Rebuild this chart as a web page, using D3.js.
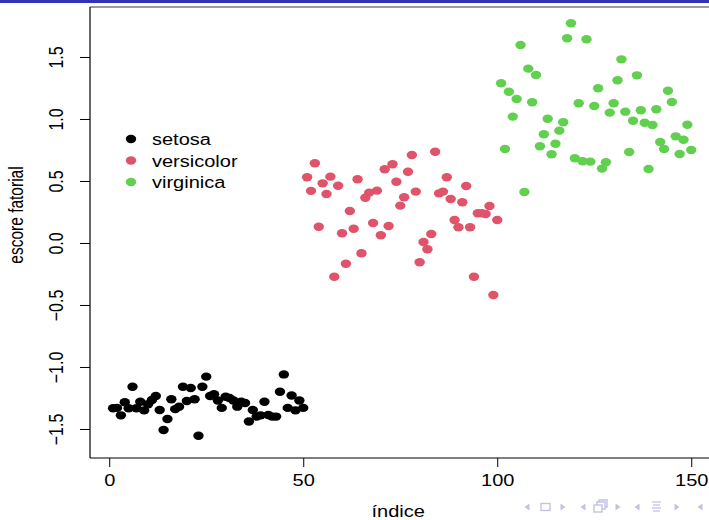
<!DOCTYPE html>
<html>
<head>
<meta charset="utf-8">
<script src="https://cdn.jsdelivr.net/npm/d3@7"></script>
<style>
  body { margin: 0; background: #fff; }
  svg { display: block; }
  text { font-family: "Liberation Sans", Arial, Helvetica, sans-serif; fill: #000; }
</style>
</head>
<body>
<svg id="chart" width="709" height="520"></svg>
<script>
// Factor scores of the iris observations, in row order, grouped by species
const species = ["setosa", "versicolor", "virginica"];
const speciesColors = ["#000000", "#DF536B", "#61D04F"];

const setosaScores = [
  -1.333, -1.33, -1.39, -1.285, -1.333, -1.16, -1.333, -1.28, -1.35, -1.30,
  -1.266, -1.234, -1.347, -1.508, -1.42, -1.26, -1.34, -1.32, -1.16, -1.274,
  -1.17, -1.26, -1.554, -1.16, -1.078, -1.234, -1.22, -1.27, -1.33, -1.24,
  -1.25, -1.27, -1.32, -1.28, -1.29, -1.44, -1.347, -1.40, -1.39, -1.28,
  -1.387, -1.40, -1.40, -1.20, -1.06, -1.33, -1.23, -1.35, -1.27, -1.33
];
const versicolorScores = [
  0.53, 0.42, 0.643, 0.131, 0.481, 0.395, 0.535, -0.272, 0.462, 0.078,
  -0.167, 0.258, 0.115, 0.514, -0.083, 0.365, 0.406, 0.161, 0.422, 0.062,
  0.594, 0.137, 0.635, 0.494, 0.301, 0.369, 0.575, 0.71, 0.414, -0.156,
  0.008, -0.051, 0.073, 0.736, 0.40, 0.414, 0.53, 0.355, 0.185, 0.127,
  0.328, 0.46, 0.127, -0.272, 0.24, 0.24, 0.234, 0.298, -0.42, 0.185
];
const virginicaScores = [
  1.288, 0.758, 1.22, 1.019, 1.161, 1.597, 0.411, 1.406, 1.135, 1.355,
  0.78, 0.877, 1.002, 0.715, 0.80, 0.906, 0.973, 1.651, 1.772, 0.683,
  1.127, 0.659, 1.643, 0.656, 1.105, 1.248, 0.60, 0.651, 1.051, 1.127,
  1.312, 1.481, 1.059, 0.734, 0.986, 1.352, 1.07, 0.97, 0.597, 0.952,
  1.078, 0.815, 0.758, 1.228, 1.137, 0.86, 0.718, 0.833, 0.954, 0.75
];

const xTicks = [0, 50, 100, 150];
const yTicks = [-1.5, -1.0, -0.5, 0.0, 0.5, 1.0, 1.5];
const xLabel = "índice";
const yLabel = "escore fatorial";

// Points: index along x, score along y, coloured by species
const scoreGroups = [setosaScores, versicolorScores, virginicaScores];
const points = [];
scoreGroups.forEach((scores, g) => {
  scores.forEach(v => points.push({ idx: points.length + 1, score: v, group: g }));
});

const svg = d3.select("#chart");
const SX = 1.25;           // horizontal stretch of the page rendering
const fontSize = 16;

// Slide decoration: title bar strip
svg.append("rect").attr("x", 0).attr("y", 0).attr("width", 709).attr("height", 3)
  .attr("fill", "#3333B3");

// Plot region
const box = { left: 90, top: 7, bottom: 458 };
const xDomain = [1 - 0.04 * 149, 150 + 0.04 * 149];
const pxPerUnit = 3.88;
box.right = box.left + (xDomain[1] - xDomain[0]) * pxPerUnit;

const x = d3.scaleLinear().domain(xDomain).range([box.left, box.right]);
const y = d3.scaleLinear().domain([-1.734, 1.903]).range([box.bottom, box.top]);

const fmt = d3.format(".1f");

// Y axis with rotated labels
const yAxis = svg.append("g")
  .attr("transform", `translate(${box.left},0)`)
  .call(d3.axisLeft(y).tickValues(yTicks).tickSize(10).tickFormat(fmt));
yAxis.select(".domain").remove();
yAxis.selectAll(".tick line").attr("stroke", "#000");
yAxis.selectAll(".tick text").remove();
yAxis.selectAll(".tick").append("text")
  .attr("transform", `translate(${63 - box.left},0) scale(${SX},1) rotate(-90)`)
  .attr("text-anchor", "middle")
  .attr("font-size", fontSize)
  .text(d => fmt(d));

// X axis
const xAxis = svg.append("g")
  .attr("transform", `translate(0,${box.bottom})`)
  .call(d3.axisBottom(x).tickValues(xTicks).tickSize(9).tickFormat(d3.format("d")));
xAxis.select(".domain").remove();
xAxis.selectAll(".tick line").attr("stroke", "#000");
xAxis.selectAll(".tick text").remove();
xAxis.selectAll(".tick").append("text")
  .attr("transform", `translate(0,28) scale(${SX},1)`)
  .attr("text-anchor", "middle")
  .attr("font-size", fontSize)
  .text(d => d);

// Box around the plot region
svg.append("line").attr("x1", box.left).attr("x2", 709).attr("y1", box.top).attr("y2", box.top)
  .attr("stroke", "#7a7a7a").attr("stroke-width", 1.5);
svg.append("line").attr("x1", box.left).attr("x2", box.left).attr("y1", box.top).attr("y2", box.bottom)
  .attr("stroke", "#000").attr("stroke-width", 1.2);
svg.append("line").attr("x1", box.left).attr("x2", 709).attr("y1", box.bottom).attr("y2", box.bottom)
  .attr("stroke", "#000").attr("stroke-width", 1.2);

// Axis titles
svg.append("text")
  .attr("transform", `translate(${(box.left + box.right) / 2 - 4},517) scale(${SX},1)`)
  .attr("text-anchor", "middle").attr("font-size", fontSize).text(xLabel);
svg.append("text")
  .attr("transform", `translate(23,215) scale(${SX},1) rotate(-90)`)
  .attr("text-anchor", "middle").attr("font-size", fontSize - 0.5).text(yLabel);

// Scatter points
svg.append("g").selectAll("ellipse").data(points).join("ellipse")
  .attr("cx", d => x(d.idx))
  .attr("cy", d => y(d.score))
  .attr("rx", 5.2).attr("ry", 4.2)
  .attr("fill", d => speciesColors[d.group]);

// Legend
const legend = svg.append("g");
species.forEach((name, i) => {
  const ly = 139 + i * 21.5;
  legend.append("ellipse").attr("cx", 131).attr("cy", ly).attr("rx", 5.2).attr("ry", 4.2)
    .attr("fill", speciesColors[i]);
  legend.append("text")
    .attr("transform", `translate(152,${ly + 6}) scale(${SX},1)`)
    .attr("font-size", fontSize).text(name);
});

// Slide navigation symbols
const nav = svg.append("g").attr("fill", "#C2C2E6").attr("stroke", "#C2C2E6");
const navY = 507;
const triLeft = cx => `M${cx + 2.5},${navY - 3.5} L${cx - 2.5},${navY} L${cx + 2.5},${navY + 3.5} Z`;
const triRight = cx => `M${cx - 2.5},${navY - 3.5} L${cx + 2.5},${navY} L${cx - 2.5},${navY + 3.5} Z`;
[527, 583, 637, 700].forEach(cx => nav.append("path").attr("d", triLeft(cx)).attr("stroke", "none"));
[563, 618, 677].forEach(cx => nav.append("path").attr("d", triRight(cx)).attr("stroke", "none"));
nav.append("rect").attr("x", 541).attr("y", navY - 3.5).attr("width", 9).attr("height", 7)
  .attr("fill", "none").attr("stroke-width", 1.4);
nav.append("rect").attr("x", 594).attr("y", navY - 2).attr("width", 8).attr("height", 7)
  .attr("fill", "#fff").attr("stroke-width", 1.4);
nav.append("path").attr("d", `M597,${navY - 2} V${navY - 5} H605 V${navY + 2} H602 M599,${navY - 5} V${navY - 7} H607 V${navY} H605`)
  .attr("fill", "none").attr("stroke-width", 1.4);
[-5, -2, 1, 4].forEach((dy, k) => nav.append("line")
  .attr("x1", 652 + (k % 2 ? 1 : 0)).attr("x2", 661 - (k % 2 ? 1 : 0))
  .attr("y1", navY + dy).attr("y2", navY + dy).attr("stroke-width", 1.3));
</script>
</body>
</html>
